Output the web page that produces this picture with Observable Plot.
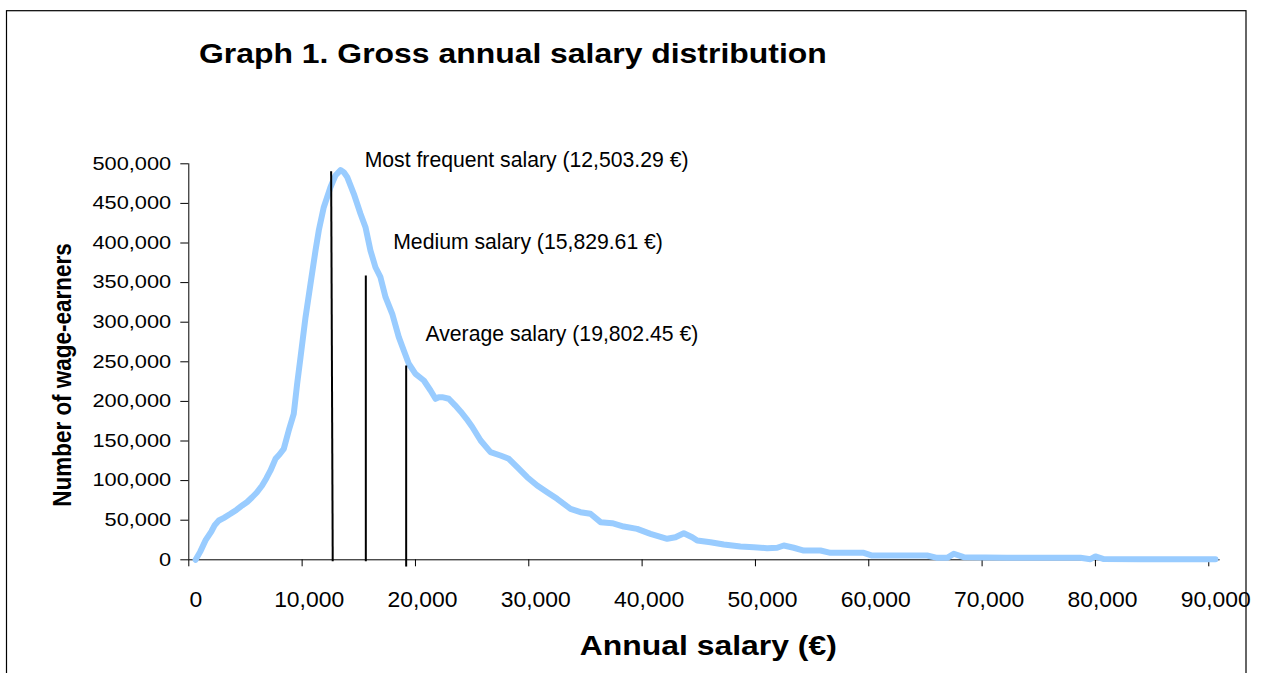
<!DOCTYPE html>
<html><head><meta charset="utf-8">
<script src="https://cdn.jsdelivr.net/npm/d3@7"></script>
<script src="https://cdn.jsdelivr.net/npm/@observablehq/plot@0.6"></script>
<style>html,body{margin:0;padding:0;background:#fff;} svg{display:block;}</style>
</head><body><div id="chart"></div>
<script>
// ---- data ----
const salary = [600,1000,1470,2000,2300,2650,3100,3680,4200,4710,5150,5590,6000,6470,6850,7210,7650,8000,8380,8820,9260,9560,9860,10300,10740,11180,11470,11910,12500,12940,13390,13680,13980,14560,15150,15590,16030,16470,16910,17360,17950,18530,18970,19410,20000,20740,21330,21770,22060,22360,22940,23500,24000,24500,25000,25750,26620,27500,28240,28980,29860,30740,31620,32500,33090,33680,34560,35440,36330,37360,38380,39560,40740,42210,42940,43680,44420,44860,46030,47210,48680,49850,51030,51920,52500,53380,54260,55740,56620,58090,59560,60300,62210,65150,66040,66920,67500,68380,72210,76620,78680,79560,80000,80740,83980,87510,90590];
const wageEarners = [0,10000,24400,36000,44000,49600,53000,58100,63000,68600,73000,79000,85000,93800,103000,112800,127500,133000,140100,163300,184300,222200,255800,306300,348500,390500,415800,445200,470400,485200,492000,489400,483100,462100,436900,419900,390500,369400,356800,331600,310600,281100,264300,247500,234800,226400,213800,203300,205300,205300,203300,195000,187000,178000,168000,150600,135900,131700,127500,116900,104300,93800,85400,77000,70700,64400,60100,58100,47500,46200,42000,39100,32800,26500,28500,33600,28500,24400,22200,19300,16800,15900,14600,15200,18100,15200,11700,11700,8800,8800,8800,5400,5400,5400,2500,2500,7600,3300,2500,2500,2500,800,4200,1000,800,800,700];

const xTicks = [0,10000,20000,30000,40000,50000,60000,70000,80000,90000];
const yTicks = [0,50000,100000,150000,200000,250000,300000,350000,400000,450000,500000];

const statNames = ["Most frequent salary (12,503.29 €)", "Medium salary (15,829.61 €)", "Average salary (19,802.45 €)"];
const statX = [12560, 15620, 19180];        // top of each marker line (salary)
const statXBottom = [12700, 15620, 19180];  // bottom of each marker line (salary)
const statTop = [490700, 359000, 245300];
const statBottom = [-1800, -1800, -8500];

const titleText = "Graph 1. Gross annual salary distribution";
const xLabel = "Annual salary (€)";
const yLabel = "Number of wage-earners";

// ---- layout (offsets of the annotation labels, px) ----
const labelDx = [33.5, 27.4, 19.3];
const labelDy = [-4, -26.7, -25];

const curve = salary.map((s, i) => ({salary: s, count: wageEarners[i]}));
const stats = statNames.map((name, i) => ({name, x: statX[i], xb: statXBottom[i], top: statTop[i], bottom: statBottom[i]}));
const fmt = d3.format(",");

const plot = Plot.plot({
  width: 1266, height: 673,
  marginLeft: 188.3, marginRight: 46.4, marginTop: 163.3, marginBottom: 113.7,
  style: {fontFamily: "'Liberation Sans', Arial, sans-serif", background: "white", color: "black"},
  x: {domain: [0, 91000], label: null},
  y: {domain: [0, 500000], label: null},
  marks: [
    Plot.axisY(yTicks, {tickSize: 8, tickPadding: 9.6, tickFormat: fmt, fontSize: 18.3, label: null}),
    Plot.axisX(xTicks, {tickSize: 7, tickPadding: 23.7, tickFormat: fmt, fontSize: 22.9, label: null}),
    Plot.ruleX([0]),
    Plot.ruleY([0]),
    Plot.line(curve, {x: "salary", y: "count", stroke: "#99ccff", strokeWidth: 6}),
    Plot.link(stats, {x1: "xb", y1: "bottom", x2: "x", y2: "top", stroke: "black", strokeWidth: 2}),
    ...stats.map((d, i) => Plot.text([d], {x: "x", y: "top", text: "name", textAnchor: "start", lineAnchor: "bottom",
      dx: labelDx[i], dy: labelDy[i], fontSize: 21.2, fill: "black"}))
  ]
});

const svg = d3.select(plot);
svg.selectAll('g[aria-label="y-axis tick label"] text')
  .attr("transform", function() { return (this.getAttribute("transform") || "") + " scale(1.19,1)"; });
svg.selectAll('g[aria-label="x-axis tick label"] text')
  .attr("transform", function() { return (this.getAttribute("transform") || "") + " translate(7,0)"; });

// outer frame
svg.insert("rect", ":first-child")
  .attr("x", 6.5).attr("y", 10.7).attr("width", 1239.5).attr("height", 720)
  .attr("fill", "none").attr("stroke", "black").attr("stroke-width", 1.2);

// titles
svg.append("text").text(titleText)
  .attr("transform", "translate(199,63) scale(1.12,1)")
  .attr("text-anchor", "start")
  .attr("font-size", 28.5).attr("font-weight", "bold").attr("fill", "black");
svg.append("text").text(xLabel)
  .attr("transform", "translate(708.3,655) scale(1.14,1)")
  .attr("text-anchor", "middle")
  .attr("font-size", 28).attr("font-weight", "bold").attr("fill", "black");
svg.append("text").text(yLabel)
  .attr("transform", "translate(70.7,375) rotate(-90) scale(0.9,1)")
  .attr("text-anchor", "middle")
  .attr("font-size", 25).attr("font-weight", "bold").attr("fill", "black");

document.getElementById("chart").appendChild(plot);
</script>
</body></html>
